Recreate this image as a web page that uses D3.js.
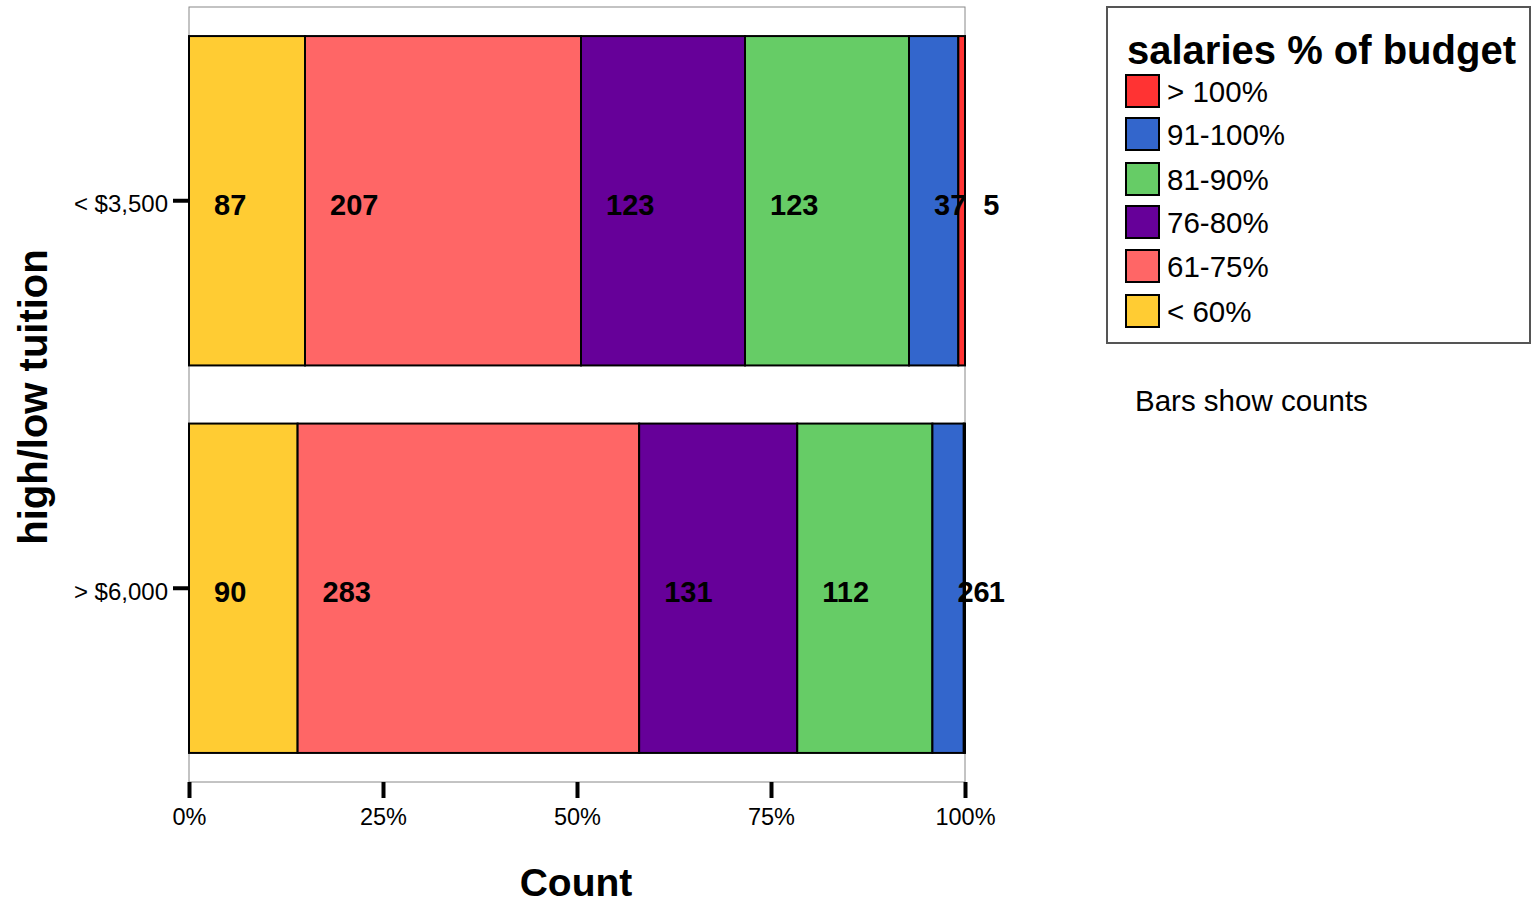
<!DOCTYPE html>
<html><head><meta charset="utf-8">
<script src="https://cdn.jsdelivr.net/npm/d3@7"></script>
<style>body{margin:0;background:#fff}</style>
</head><body>
<script>
const groups = ["< $3,500", "> $6,000"];
const categories = ["< 60%", "61-75%", "76-80%", "81-90%", "91-100%", "> 100%"];
const colors = ["#FFCC33", "#FF6666", "#660099", "#66CC66", "#3366CC", "#FF3333"];
const countsLow = [87, 207, 123, 123, 37, 5];
const countsHigh = [90, 283, 131, 112, 26, 1];
const xTicks = [0, 0.25, 0.5, 0.75, 1];
const allCounts = [countsLow, countsHigh];

const W = 1535, H = 904;
const FONT = "Liberation Sans, Arial, sans-serif";
const svg = d3.select("body").append("svg").attr("width", W).attr("height", H);
const L = 189, R = 965, T = 7, B = 782;

const x = d3.scaleLinear().domain([0, 1]).range([L, R]);
const y = d3.scaleBand().domain(groups).range([T, B]).paddingInner(0.15).paddingOuter(0.075);

// plot frame
svg.append("rect").attr("x", L).attr("y", T).attr("width", R - L).attr("height", B - T)
  .attr("fill", "none").attr("stroke", "#888").attr("stroke-width", 1);

groups.forEach((g, gi) => {
  const vals = allCounts[gi];
  const total = d3.sum(vals);
  let cum = 0;
  const segs = vals.map((v, i) => { const s = {v, i, x0: cum / total, x1: (cum + v) / total}; cum += v; return s; });
  const gg = svg.append("g");
  gg.selectAll("rect").data(segs).join("rect")
    .attr("x", d => x(d.x0)).attr("y", y(g))
    .attr("width", d => x(d.x1) - x(d.x0)).attr("height", y.bandwidth())
    .attr("fill", d => colors[d.i]).attr("stroke", "#000").attr("stroke-width", 2);
  gg.selectAll("text").data(segs).join("text")
    .attr("x", d => x(d.x0) + 25).attr("y", y(g) + y.bandwidth() / 2 + 14)
    .attr("font-family", FONT).attr("font-weight", "bold")
    .attr("font-size", 29).attr("fill", "#000").text(d => d.v);
});

// x axis
const xAxis = svg.append("g").attr("transform", `translate(0,${B})`)
  .call(d3.axisBottom(x).tickValues(xTicks).tickFormat(d3.format(".0%")).tickSize(16).tickPadding(10));
xAxis.select(".domain").remove();
xAxis.selectAll("line").attr("stroke", "#000").attr("stroke-width", 4);
xAxis.selectAll("text").attr("font-family", FONT).attr("font-size", 23.5).attr("fill", "#000");

// y axis
const yAxis = svg.append("g").attr("transform", `translate(${L},0)`)
  .call(d3.axisLeft(y).tickSize(16).tickPadding(5));
yAxis.select(".domain").remove();
yAxis.selectAll("line").attr("stroke", "#000").attr("stroke-width", 4);
yAxis.selectAll("text").attr("font-family", FONT).attr("font-size", 24).attr("fill", "#000")
  .attr("y", 4);

// axis titles
svg.append("text").attr("x", 576).attr("y", 896).attr("text-anchor", "middle")
  .attr("font-family", FONT).attr("font-weight", "bold").attr("font-size", 39).text("Count");
svg.append("text").attr("transform", "translate(47,397) rotate(-90)").attr("text-anchor", "middle")
  .attr("font-family", FONT).attr("font-weight", "bold").attr("font-size", 40).text("high/low tuition");

// legend
const lg = svg.append("g");
lg.append("rect").attr("x", 1107).attr("y", 7).attr("width", 423).attr("height", 336)
  .attr("fill", "#fff").attr("stroke", "#555").attr("stroke-width", 2);
lg.append("text").attr("x", 1127).attr("y", 64)
  .attr("font-family", FONT).attr("font-weight", "bold")
  .attr("font-size", 40).attr("fill", "#000").text("salaries % of budget");
const legOrder = d3.range(categories.length).reverse();
const ly = [75, 118, 163, 206, 250, 295];
legOrder.forEach((ci, k) => {
  lg.append("rect").attr("x", 1126).attr("y", ly[k]).attr("width", 33).attr("height", 32)
    .attr("fill", colors[ci]).attr("stroke", "#000").attr("stroke-width", 2);
  lg.append("text").attr("x", 1167).attr("y", ly[k] + 27)
    .attr("font-family", FONT).attr("font-size", 29.5)
    .attr("fill", "#000").text(categories[ci]);
});
svg.append("text").attr("x", 1135).attr("y", 411)
  .attr("font-family", FONT).attr("font-size", 29.5)
  .attr("fill", "#000").text("Bars show counts");
</script>
</body></html>
